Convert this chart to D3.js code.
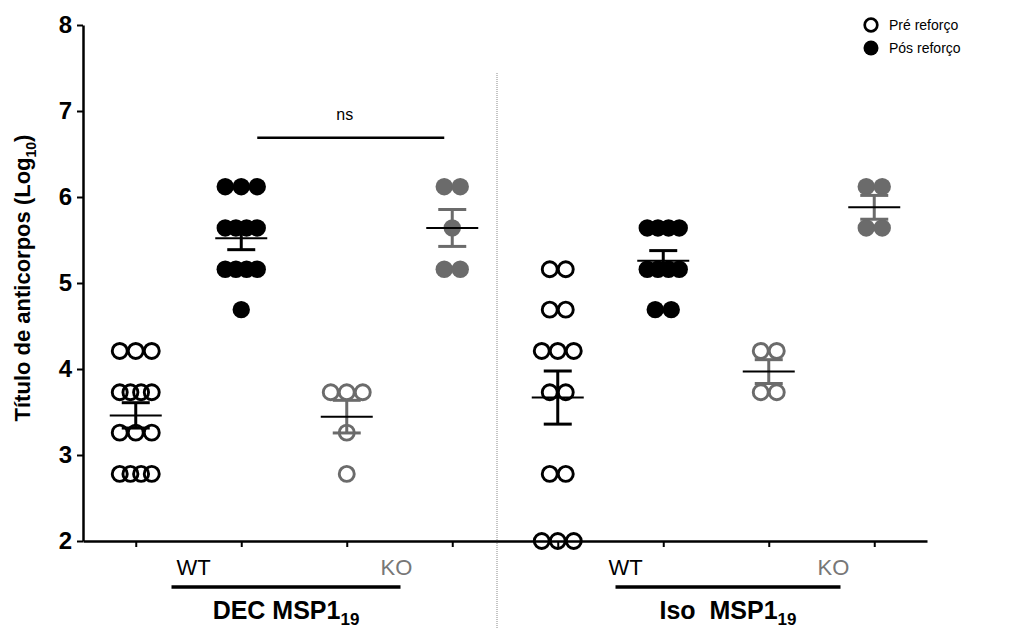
<!DOCTYPE html>
<html>
<head>
<meta charset="utf-8">
<script src="https://cdn.jsdelivr.net/npm/d3@7"></script>
<style>
  body { margin: 0; background: #fff; }
  text { font-family: "Liberation Sans", Arial, sans-serif; }
</style>
</head>
<body>
<svg id="chart"></svg>
<script>
const W = 1011;
const H = 628;

// groups in plotting order
const groupKeys = ["decWtPre", "decWtPos", "decKoPre", "decKoPos", "isoWtPre", "isoWtPos", "isoKoPre", "isoKoPos"];
const groupFilled = [false, true, false, true, false, true, false, true];
const groupGrey = [false, false, true, true, false, false, true, true];

// log10 titres
const decWtPre = [4.21, 4.21, 4.21, 3.73, 3.73, 3.73, 3.73, 3.26, 3.26, 3.26, 2.78, 2.78, 2.78, 2.78];
const decWtPos = [6.12, 6.12, 6.12, 5.64, 5.64, 5.64, 5.64, 5.16, 5.16, 5.16, 5.16, 4.69];
const decKoPre = [3.73, 3.73, 3.73, 3.26, 2.78];
const decKoPos = [6.12, 6.12, 5.64, 5.16, 5.16];
const isoWtPre = [5.16, 5.16, 4.69, 4.69, 4.21, 4.21, 4.21, 3.73, 3.73, 2.78, 2.78, 2.0, 2.0, 2.0];
const isoWtPos = [5.64, 5.64, 5.64, 5.64, 5.16, 5.16, 5.16, 5.16, 4.69, 4.69];
const isoKoPre = [4.21, 4.21, 3.73, 3.73];
const isoKoPos = [6.12, 6.12, 5.64, 5.64];

const seriesValues = [decWtPre, decWtPos, decKoPre, decKoPos, isoWtPre, isoWtPos, isoKoPre, isoKoPos];

const yTicks = [2, 3, 4, 5, 6, 7, 8];
const genotypeLabels = ["WT", "KO"];
const panelLabels = ["DEC MSP1", "Iso  MSP1"];
const legendLabels = ["Pré reforço", "Pós reforço"];

const BLACK = "#000";
const GREY = "#6b6b6b";

const svg = d3.select("#chart")
    .attr("width", W)
    .attr("height", H);

const x = d3.scalePoint()
    .domain(groupKeys)
    .range([83, 927])
    .padding(0.5);

const y = d3.scaleLinear()
    .domain([2, 8])
    .range([541, 25]);

// divider between panels
svg.append("line")
    .attr("x1", 497).attr("x2", 497)
    .attr("y1", 73).attr("y2", H)
    .attr("stroke", "#8a8a8a")
    .attr("stroke-width", 1)
    .attr("stroke-dasharray", "1,1");

// Axis Y
const yAxis = svg.append("g")
    .attr("transform", "translate(83,0)")
    .call(d3.axisLeft(y).tickValues(yTicks).tickFormat(d3.format("d"))
        .tickSize(6).tickSizeOuter(0).tickPadding(5));
yAxis.select(".domain").attr("stroke-width", 2.5);
yAxis.selectAll(".tick line").attr("stroke-width", 2);
yAxis.selectAll(".tick text")
    .attr("font-size", 24)
    .attr("font-weight", "bold")
    .attr("font-family", "Liberation Sans, Arial, sans-serif")
    .attr("fill", BLACK);

// Axis X
const xAxis = svg.append("g")
    .attr("transform", "translate(0,541)")
    .call(d3.axisBottom(x).tickSize(6).tickSizeOuter(0).tickFormat(""));
xAxis.select(".domain").attr("stroke-width", 2.5);
xAxis.selectAll(".tick line").attr("stroke-width", 2);

// Label Y
const yLab = svg.append("text")
    .attr("transform", "translate(30,278) rotate(-90)")
    .attr("text-anchor", "middle")
    .attr("font-size", 22)
    .attr("font-weight", "bold");
yLab.append("tspan").text("Título de anticorpos (Log");
yLab.append("tspan").attr("font-size", 14).attr("dy", 6).text("10");
yLab.append("tspan").attr("dy", -6).text(")");

// scatter: spread points sharing a value across the row
function spread(values) {
    const rows = d3.groups(values, v => v);
    const out = [];
    rows.forEach(([v, arr]) => {
        const n = arr.length;
        const width = Math.min(n - 1, 2) * 16;
        arr.forEach((_, i) => {
            const off = n === 1 ? 0 : -width / 2 + i * width / (n - 1);
            out.push({ v: v, off: off });
        });
    });
    return out;
}

groupKeys.forEach((key, gi) => {
    const col = groupGrey[gi] ? GREY : BLACK;
    const filled = groupFilled[gi];
    const vals = seriesValues[gi];
    const cx = x(key);

    svg.append("g")
        .selectAll("circle")
        .data(spread(vals))
        .enter()
        .append("circle")
        .attr("cx", d => cx + d.off)
        .attr("cy", d => y(d.v))
        .attr("r", filled ? 8.7 : 7.5)
        .attr("fill", filled ? col : "none")
        .attr("stroke", col)
        .attr("stroke-width", filled ? 0 : 2.9);

    const m = d3.mean(vals);
    const sem = d3.deviation(vals) / Math.sqrt(vals.length);
    const eb = svg.append("g");
    eb.append("line")
        .attr("x1", cx).attr("x2", cx)
        .attr("y1", y(m - sem)).attr("y2", y(m + sem))
        .attr("stroke", col).attr("stroke-width", 3);
    [m - sem, m + sem].forEach(v => {
        eb.append("line")
            .attr("x1", cx - 14).attr("x2", cx + 14)
            .attr("y1", y(v)).attr("y2", y(v))
            .attr("stroke", col).attr("stroke-width", 3);
    });
    eb.append("line")
        .attr("x1", cx - 26).attr("x2", cx + 26)
        .attr("y1", y(m)).attr("y2", y(m))
        .attr("stroke", BLACK).attr("stroke-width", 2);
});

// genotype and panel labels
const panelGroups = [["decWtPre", "decWtPos", "decKoPre", "decKoPos"], ["isoWtPre", "isoWtPos", "isoKoPre", "isoKoPos"]];
const labelShift = [[5, -3], [15, 12]];
const linePad = [[22, 4], [10, 7]];
panelGroups.forEach((keys, pi) => {
    const wtX = (x(keys[0]) + x(keys[1])) / 2 + labelShift[pi][0];
    const koX = (x(keys[2]) + x(keys[3])) / 2 + labelShift[pi][1];
    svg.append("text")
        .attr("x", wtX).attr("y", 575)
        .attr("text-anchor", "middle")
        .attr("font-size", 22)
        .attr("fill", BLACK)
        .text(genotypeLabels[0]);
    svg.append("text")
        .attr("x", koX).attr("y", 575)
        .attr("text-anchor", "middle")
        .attr("font-size", 22)
        .attr("fill", "#777")
        .text(genotypeLabels[1]);
    const x0 = wtX - linePad[pi][0], x1 = koX + linePad[pi][1];
    svg.append("line")
        .attr("x1", x0).attr("x2", x1)
        .attr("y1", 587).attr("y2", 587)
        .attr("stroke", BLACK).attr("stroke-width", 3.5);
    const t = svg.append("text")
        .attr("x", (x0 + x1) / 2).attr("y", 619)
        .attr("text-anchor", "middle")
        .attr("font-size", 25)
        .attr("font-weight", "bold")
        .attr("xml:space", "preserve")
        .style("white-space", "pre");
    t.append("tspan").text(panelLabels[pi]);
    t.append("tspan").attr("font-size", 17).attr("dy", 6).text("19");
});

// ns comparison
const nsY = y(6.69);
svg.append("line")
    .attr("x1", x("decWtPos") + 16).attr("x2", x("decKoPos") - 8)
    .attr("y1", nsY).attr("y2", nsY)
    .attr("stroke", BLACK).attr("stroke-width", 2.5);
svg.append("text")
    .attr("x", (x("decWtPos") + x("decKoPos")) / 2 - 2)
    .attr("y", nsY - 18)
    .attr("text-anchor", "middle")
    .attr("font-size", 16)
    .text("ns");

// legend
legendLabels.forEach((lab, i) => {
    const ly = 25 + i * 23;
    svg.append("circle")
        .attr("cx", 871).attr("cy", ly)
        .attr("r", i === 0 ? 6.3 : 7.5)
        .attr("fill", i === 0 ? "none" : BLACK)
        .attr("stroke", BLACK)
        .attr("stroke-width", i === 0 ? 2.7 : 0);
    svg.append("text")
        .attr("x", 889).attr("y", ly + 5)
        .attr("font-size", 14)
        .text(lab);
});
</script>
</body>
</html>
